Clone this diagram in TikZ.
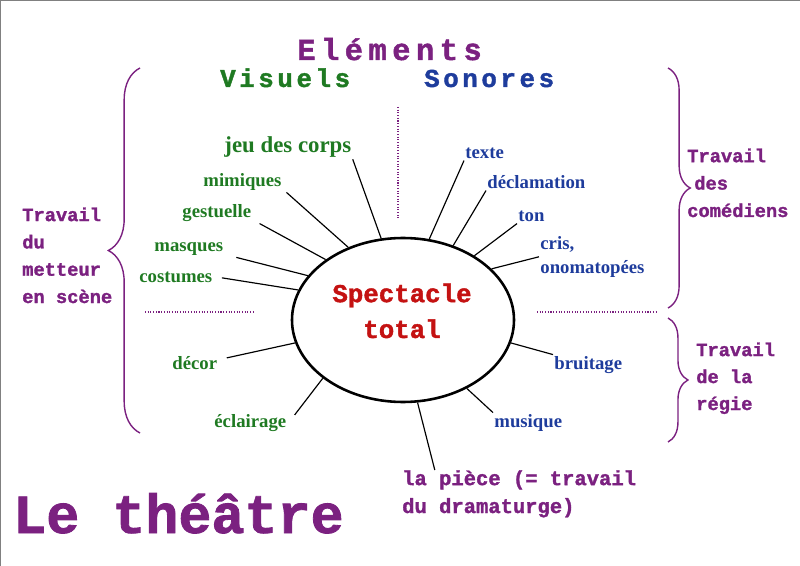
\documentclass[tikz,border=0pt]{standalone}
\usepackage{fontspec}
\setmainfont{Liberation Serif}
\newfontfamily\machine{Liberation Mono}[BoldFeatures={FakeBold=1.5}]
\newfontfamily\machinelarge{Liberation Mono}[LetterSpace=18, BoldFeatures={FakeBold=1.5}]
\newfontfamily\machinemoyen{Liberation Mono}[LetterSpace=14, BoldFeatures={FakeBold=1.5}]
\usetikzlibrary{shapes.geometric,decorations.pathreplacing}

\definecolor{mauve}{HTML}{7B2180}
\definecolor{vert}{HTML}{1F7A22}
\definecolor{bleu}{HTML}{1E3C9C}
\definecolor{rouge}{HTML}{C41212}

\begin{document}
\begin{tikzpicture}[x=0.03cm, y=-0.03cm,
  visuel/.style={text=vert, font=\bfseries\fontsize{16}{17}\selectfont, inner sep=1pt, anchor=base west},
  sonore/.style={text=bleu, font=\bfseries\fontsize{16}{17}\selectfont, inner sep=1pt, anchor=base west, align=left},
  travail/.style={text=mauve, font=\machine\bfseries\fontsize{16}{23.3}\selectfont, align=left, inner sep=0pt, anchor=base west},
  rayon/.style={line width=1pt},
  accolade/.style={draw=mauve, line width=1.2pt, decorate, decoration={brace, amplitude=#1}},
  pointille/.style={draw=mauve, line width=0.9pt, dash pattern=on 0.9pt off 1.4pt}]
  \useasboundingbox (0,0) rectangle (800,566);
  \draw[gray, line width=2pt] (0,566) -- (0,0) -- (800,0);

  % Titres
  \node[text=mauve, font=\machinelarge\bfseries\fontsize{26}{28}\selectfont, inner sep=0pt, anchor=base west] (elements) at (297,60) {Eléments};
  \node[text=vert, font=\machinemoyen\bfseries\fontsize{22}{24}\selectfont, inner sep=0pt, anchor=base west] (visuels) at (220,87) {Visuels};
  \node[text=bleu, font=\machinemoyen\bfseries\fontsize{22}{24}\selectfont, inner sep=0pt, anchor=base west] (sonores) at (424,87) {Sonores};
  \node[text=mauve, font=\machine\bfseries\fontsize{47}{50}\selectfont, inner sep=0pt, anchor=base west] (theatre) at (13,533) {Le théâtre};

  % Ellipse
  \node[ellipse, draw, line width=2.2pt, minimum width=6.66cm, minimum height=4.92cm, inner sep=0pt] (spect) at (403,320) {};
  \node[text=rouge, font=\machine\bfseries\fontsize{22}{30.6}\selectfont, align=center, inner sep=0pt, anchor=base] (spectxt) at (402,338) {Spectacle\\total};

  % Elements visuels
  \node[visuel, font=\bfseries\fontsize{19.5}{21}\selectfont] (jeu) at (223,153) {jeu des corps};
  \node[visuel] (mimiques) at (202,187) {mimiques};
  \node[visuel] (gestuelle) at (181,218) {gestuelle};
  \node[visuel] (masques) at (153,252) {masques};
  \node[visuel] (costumes) at (138,283) {costumes};
  \node[visuel] (decor) at (171,369) {décor};
  \node[visuel] (eclairage) at (213,427) {éclairage};

  % Elements sonores
  \node[sonore] (texte) at (464,159) {texte};
  \node[sonore] (declamation) at (486,189) {déclamation};
  \node[sonore] (ton) at (517,222) {ton};
  \node[sonore, font=\bfseries\fontsize{16}{20}\selectfont] (cris) at (539,273) {cris,\\onomatopées};
  \node[sonore] (bruitage) at (553,369) {bruitage};
  \node[sonore] (musique) at (493,427) {musique};
  \node[travail, font=\machine\bfseries\fontsize{17.5}{23.8}\selectfont] (piece) at (402,513) {la pièce (= travail\\du dramaturge)};

  % Travail
  \node[travail] (metteur) at (22,303) {Travail\\du\\metteur\\en scène};
  \node[travail, font=\machine\bfseries\fontsize{16}{23.4}\selectfont] (comediens) at (687,217) {Travail\\\hspace{6pt}des\\comédiens};
  \node[travail, font=\machine\bfseries\fontsize{16}{23}\selectfont] (regie) at (696,410) {Travail\\de la\\régie};

  % Rayons
  \draw[rayon] (jeu.south east) -- (spect.105.9);
  \draw[rayon] ([xshift=3pt]mimiques.south east) -- (spect.127.4);
  \draw[rayon] ([xshift=6pt]gestuelle.south east) -- (spect.142.4);
  \draw[rayon] ([xshift=10pt]masques.south east) -- (spect.155.9);
  \draw[rayon] ([xshift=7pt]costumes.east) -- (spect.164.6);
  \draw[rayon] ([xshift=7pt,yshift=4pt]decor.east) -- (spect.192);
  \draw[rayon] ([xshift=6pt,yshift=-2pt]eclairage.north east) -- (spect.216.4);
  \draw[rayon] ([xshift=28pt]piece.north west) -- (spect.280.4);
  \draw[rayon] (musique.north west) -- (spect.313.3);
  \draw[rayon] (bruitage.north west) -- (spect.348.1);
  \draw[rayon] (cris.west) -- (spect.30);
  \draw[rayon] (ton.south west) -- (spect.42.5);
  \draw[rayon] (declamation.south west) -- (spect.56.8);
  \draw[rayon] (texte.south west) -- (spect.72.2);

  % Accolades et separations
  \draw[accolade=27pt] (140,433) -- (140,68);
  \draw[accolade=19pt] (668,68) -- (668,308);
  \draw[accolade=17pt] (668,318) -- (668,442);
  \draw[pointille] (398,107) -- (398,218);
  \draw[pointille] (145,312) -- (255,312);
  \draw[pointille] (537,312) -- (656,312);
\end{tikzpicture}
\end{document}
